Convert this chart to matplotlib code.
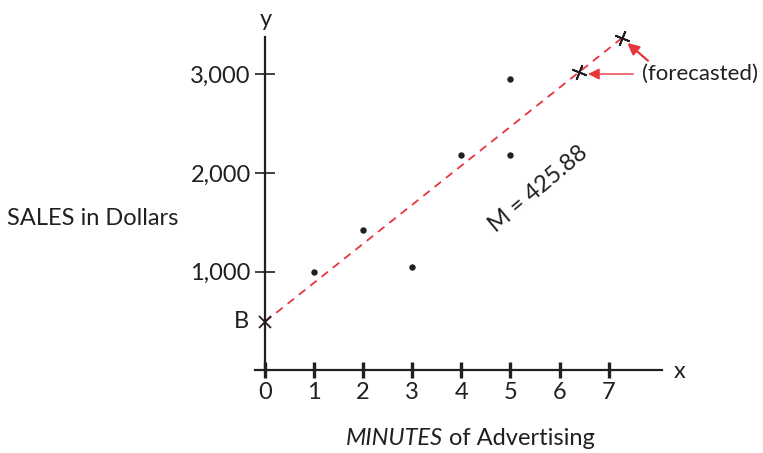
import matplotlib
matplotlib.use("Agg")
import matplotlib.pyplot as plt

# Data
minutes = [1, 2, 3, 4, 5, 5]
sales = [1000, 1420, 1045, 2180, 2180, 2950]
intercept_b = 490
forecast_x = [6.39, 7.28]
forecast_y = [3021, 3374]
x_ticks = [0, 1, 2, 3, 4, 5, 6, 7]
y_ticks = [1000, 2000, 3000]
y_tick_labels = ["1,000", "2,000", "3,000"]
slope_label = "M = 425.88"

plt.rcParams['font.family'] = ['Lato', 'DejaVu Sans']
TXT = '#231f20'
RED = '#e8343a'

fig = plt.figure(figsize=(7.63, 4.53), dpi=100)
ax = fig.add_axes([0, 0, 1, 1])
ax.set_xlim(-5.397, 10.143)
ax.set_ylim(-842.6, 3756.3)

for s in ['top', 'right']:
    ax.spines[s].set_visible(False)
ax.spines['left'].set_position(('data', 0))
ax.spines['bottom'].set_position(('data', 0))
ax.spines['left'].set_bounds(0, 3381)
ax.spines['bottom'].set_bounds(-0.2, 8.08)
for s in ['left', 'bottom']:
    ax.spines[s].set_linewidth(1.6)
    ax.spines[s].set_color(TXT)

ax.set_xticks(x_ticks)
ax.set_xticklabels([str(v) for v in x_ticks])
ax.set_yticks(y_ticks)
ax.set_yticklabels(y_tick_labels)
ax.tick_params(axis='x', direction='inout', length=11, width=2.4, pad=3,
               labelsize=17, colors=TXT)
ax.tick_params(axis='y', direction='inout', length=14.4, width=1.2, pad=3,
               labelsize=17, colors=TXT)

# regression line
xl = [0, forecast_x[-1]]
yl = [intercept_b, forecast_y[-1]]
ax.plot(xl, yl, color=RED, lw=1.3, dashes=(4.5, 3.5), zorder=2)

# observed points
ax.plot(minutes, sales, 'o', color=TXT, ms=3.6, zorder=3)

# B marker
ax.plot([0], [intercept_b], marker='x', color=TXT, ms=9, mew=1.3, zorder=4)
# forecasted markers
ax.plot(forecast_x, forecast_y, linestyle='none', marker=(4, 2, -22),
        color=TXT, ms=11, mew=1.3, zorder=4)

ax.text(-0.32, intercept_b, 'B', ha='right', va='center', fontsize=17, color=TXT)
ax.text(0.02, 3560, 'y', ha='center', va='center', fontsize=17, color=TXT)
ax.text(8.45, -20, 'x', ha='center', va='center', fontsize=17, color=TXT)
ax.text(-3.5, 1540, 'SALES in Dollars', ha='center', va='center', fontsize=17, color=TXT)
ax.text(5.57, 1840, slope_label, ha='center', va='center', fontsize=17,
        rotation=40, color=TXT, rotation_mode='anchor')

t1 = ax.text(1.65, -800, 'MINUTES', ha='left', va='bottom', fontsize=17,
             style='italic', color=TXT)
ax.annotate(' of Advertising', xy=(1, 0), xycoords=t1, ha='left', va='bottom',
            fontsize=17, color=TXT)

ax.text(7.68, 3010, '(forecasted)', ha='left', va='center', fontsize=16, color=TXT)
ax.annotate('', xy=(6.58, 3005), xytext=(7.5, 3005),
            arrowprops=dict(arrowstyle='-|>', color=RED, lw=1.0,
                            mutation_scale=17, shrinkA=0, shrinkB=0))
ax.annotate('', xy=(7.38, 3320), xytext=(7.8, 3140),
            arrowprops=dict(arrowstyle='-|>', color=RED, lw=1.6,
                            mutation_scale=17, shrinkA=0, shrinkB=0))

fig.savefig('out.png', dpi=100)
